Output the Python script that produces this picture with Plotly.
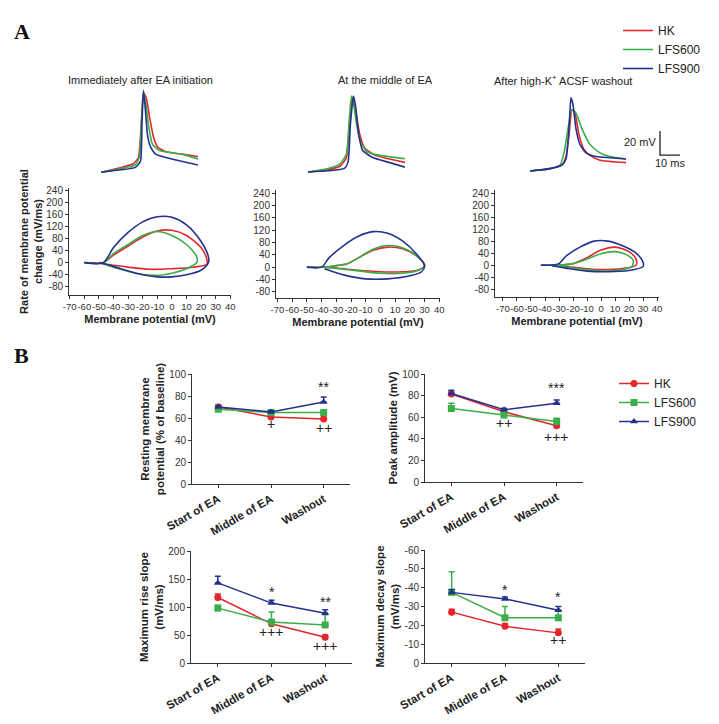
import plotly.graph_objects as go

W, H = 719, 724
OFF = 8                      # default page margin of the html body
FW, FH = W - OFF, H - OFF
RED, GREEN, BLUE = '#e3262b', '#3aae49', '#24318e'
FONT = 'Liberation Sans'
groups = ['HK', 'LFS600', 'LFS900']
colors = [RED, GREEN, BLUE]
symbols = ['circle', 'square', 'triangle-up']

# ---- panel A : action potential traces (time ms, voltage mV) ----
ap1_t = {
    'HK': [0, 10, 16, 18.5, 19.8, 21, 22.5, 24, 26, 28, 32, 40, 48],
    'LFS600': [0, 10, 17, 19, 20, 21, 22.3, 23.5, 25.5, 29, 40, 48],
    'LFS900': [0, 10, 17, 19.5, 20.3, 21, 22, 23, 24.5, 27, 35, 48],
}
ap1_v = {
    'HK': [-61, -57, -54, -49, -25, 5, 0, -15, -32, -40, -44, -46, -48],
    'LFS600': [-61, -58, -55, -48, -20, 5, -5, -22, -38, -43, -46, -50],
    'LFS900': [-61, -59, -57, -52, -20, 7, -10, -30, -40, -46, -50, -55],
}
ap2_t = {
    'HK': [0, 10, 16, 19, 20.5, 22, 23.5, 25.5, 28, 33, 48],
    'LFS600': [0, 10, 16, 19, 20.5, 21.5, 22.5, 24, 26, 29, 35, 48],
    'LFS900': [0, 10, 18, 19.8, 21, 22.5, 23.5, 25, 27, 32, 40, 48],
}
ap2_v = {
    'HK': [-60, -58, -55, -48, -20, 2, -8, -28, -40, -46, -52],
    'LFS600': [-60, -57, -53, -45, -15, 3, -3, -20, -35, -43, -46, -49],
    'LFS900': [-60, -59, -57, -52, -20, 3, -5, -28, -42, -48, -52, -56],
}
ap3_t = {
    'HK': [0, 10, 16, 18, 19.5, 21, 22.5, 24.5, 27, 30, 35, 48],
    'LFS600': [0, 10, 15, 17, 19, 21, 23, 26, 30, 35, 40, 48],
    'LFS900': [0, 10, 16, 18, 19.5, 20.5, 21.5, 23, 25, 28, 33, 40, 48],
}
ap3_v = {
    'HK': [-60, -58, -55, -48, -30, -9, -12, -30, -42, -47, -51, -53],
    'LFS600': [-60, -58, -55, -45, -25, -9, -12, -25, -38, -45, -48, -50],
    'LFS900': [-60, -58, -55, -50, -25, 1, -5, -25, -38, -45, -48, -49, -50],
}

# ---- panel A : phase plots (membrane potential mV, dV/dt mV/ms) ----
pp1_x = {
    'HK': [-60, -47, -40, -30, -20, -10, 0, 10, 20, 24, 24, 15, 0, -15, -30, -45, -55],
    'LFS600': [-60, -47, -40, -30, -20, -10, 0, 10, 17, 17, 10, 0, -10, -25, -40, -48],
    'LFS900': [-60, -47, -40, -30, -20, -10, 0, 10, 20, 25, 25, 20, 10, 0, -10, -20, -35, -45, -50],
}
pp1_y = {
    'HK': [0, 0, 25, 55, 85, 105, 107, 90, 50, 10, -5, -15, -20, -22, -15, -5, 0],
    'LFS600': [0, 0, 30, 60, 90, 103, 90, 60, 20, 0, -20, -35, -42, -35, -15, -3],
    'LFS900': [0, 0, 50, 100, 135, 152, 150, 125, 70, 20, 0, -25, -40, -47, -47, -40, -20, -5, 0],
}
pp2_x = {
    'HK': [-50, -38, -30, -23, -15, -5, 5, 15, 25, 30, 25, 15, 0, -15, -30, -38],
    'LFS600': [-50, -38, -30, -23, -15, -5, 5, 15, 25, 30, 25, 15, 0, -15, -30, -38],
    'LFS900': [-50, -40, -35, -25, -15, -5, 5, 15, 25, 30, 28, 20, 5, -10, -25, -38],
}
pp2_y = {
    'HK': [0, 0, 5, 10, 30, 55, 65, 60, 35, 5, -10, -15, -15, -10, -3, 0],
    'LFS600': [0, 0, 5, 10, 30, 58, 70, 63, 35, 5, -12, -20, -20, -12, -4, 0],
    'LFS900': [0, 0, 30, 70, 100, 115, 110, 85, 40, 5, -15, -28, -38, -38, -25, -5],
}
pp3_x = {
    'HK': [-42, -30, -20, -10, 0, 10, 20, 25, 25, 18, 5, -10, -25, -35],
    'LFS600': [-42, -30, -20, -10, 0, 10, 18, 23, 22, 15, 5, -10, -25, -35],
    'LFS900': [-43, -35, -30, -25, -15, -5, 5, 15, 25, 30, 30, 20, 5, -10, -25, -35],
}
pp3_y = {
    'HK': [0, 0, 5, 25, 50, 60, 45, 20, 0, -10, -15, -12, -5, 0],
    'LFS600': [0, 0, 5, 20, 38, 45, 35, 15, -5, -15, -20, -15, -6, 0],
    'LFS900': [0, 0, 5, 30, 60, 80, 80, 65, 40, 10, -5, -18, -22, -20, -10, -2],
}
pp_xticks = list(range(-70, 41, 10))
pp_yticks = list(range(-80, 241, 40))

# ---- panel B : summary data (mean, upward SEM) ----
categories = ['Start of EA', 'Middle of EA', 'Washout']
rest_mean = {'HK': [70, 61, 59], 'LFS600': [68, 65, 65], 'LFS900': [70, 65.5, 74.5]}
rest_err = {'HK': [2, 2, 2], 'LFS600': [1, 1, 1], 'LFS900': [1, 1, 4.5]}
peak_mean = {'HK': [81.5, 65, 52], 'LFS600': [68, 62, 56], 'LFS900': [82, 67, 73]}
peak_err = {'HK': [2, 3, 1], 'LFS600': [5, 1, 3], 'LFS900': [3, 1, 3]}
rise_mean = {'HK': [117, 70, 46], 'LFS600': [98, 73, 68], 'LFS900': [143, 107, 89]}
rise_err = {'HK': [6, 5, 4], 'LFS600': [5, 18, 18], 'LFS900': [12, 5, 6]}
decay_mean = {'HK': [-27, -19.5, -16], 'LFS600': [-37.5, -24, -24], 'LFS900': [-37.5, -34, -28]}
decay_err = {'HK': [1.5, 1.5, 2], 'LFS600': [11, 6, 4], 'LFS900': [1.5, 1, 2]}
decay_ticks = [-60, -50, -40, -30, -20, -10, 0]

rest_sig = [(2, 88, '**'), (1, 55, '+'), (2, 51, '++')]
peak_sig = [(2, 87, '***'), (1, 55, '++'), (2, 42, '+++')]
rise_sig = [(1, 127, '*'), (2, 109, '**'), (1, 55, '+++'), (2, 30, '+++')]
decay_sig = [(1, -39, '*'), (2, -35, '*'), (2, -12, '++')]


def xd(a, b):
    return [(a - OFF) / FW, (b - OFF) / FW]


def yd(top, bottom):
    return [1 - (bottom - OFF) / FH, 1 - (top - OFF) / FH]


def px(x):
    return (x - OFF) / FW


def py(y):
    return 1 - (y - OFF) / FH


def hyph(vals):
    return [str(v) for v in vals]


fig = go.Figure()

# AP traces
for k, (ts, vs) in enumerate([(ap1_t, ap1_v), (ap2_t, ap2_v), (ap3_t, ap3_v)]):
    for g, c in zip(groups, colors):
        fig.add_trace(go.Scatter(x=ts[g], y=vs[g], mode='lines', line=dict(color=c, width=1.6, shape='spline', smoothing=0.5),
                                 xaxis='x%d' % (k + 1), yaxis='y%d' % (k + 1), name=g, showlegend=(k == 0),
                                 legend='legend', hoverinfo='skip'))

# scale bar (20 mV, 10 ms)
fig.add_trace(go.Scatter(x=[65, 65, 75], y=[-26.8, -46.8, -46.8], mode='lines', line=dict(color='#222', width=1.3),
                         xaxis='x3', yaxis='y3', showlegend=False, hoverinfo='skip'))

# phase plots
for k, (xs, ys) in enumerate([(pp1_x, pp1_y), (pp2_x, pp2_y), (pp3_x, pp3_y)]):
    for g, c in zip(groups, colors):
        fig.add_trace(go.Scatter(x=xs[g], y=ys[g], mode='lines', line=dict(color=c, width=1.6, shape='spline', smoothing=0.8),
                                 xaxis='x%d' % (k + 4), yaxis='y%d' % (k + 4), showlegend=False, hoverinfo='skip'))

# panel B
for k, (means, errs) in enumerate([(rest_mean, rest_err), (peak_mean, peak_err), (rise_mean, rise_err), (decay_mean, decay_err)]):
    rev = (k == 3)
    for g, c, s in zip(groups, colors, symbols):
        e = dict(type='data', symmetric=False, color=c, thickness=1.5, width=3)
        if rev:
            e['array'] = [0, 0, 0]
            e['arrayminus'] = errs[g]
        else:
            e['array'] = errs[g]
            e['arrayminus'] = [0, 0, 0]
        fig.add_trace(go.Scatter(x=[0, 1, 2], y=means[g], mode='lines+markers', line=dict(color=c, width=1.5),
                                 marker=dict(symbol=s, size=7, color=c), error_y=e,
                                 xaxis='x%d' % (k + 7), yaxis='y%d' % (k + 7), name=g,
                                 showlegend=(k == 1), legend='legend2', hoverinfo='skip'))

layout = dict(width=FW, height=FH, paper_bgcolor='white', plot_bgcolor='white',
              margin=dict(l=0, r=0, t=0, b=0, autoexpand=False), font=dict(family=FONT, size=11, color='#222'))

hidden = dict(visible=False, showgrid=False, zeroline=False)
# AP trace axes
layout['xaxis'] = dict(hidden, domain=xd(101, 198), range=[0, 48], anchor='y')
layout['yaxis'] = dict(hidden, domain=yd(86, 175), range=[-63.3, 10.5], anchor='x')
layout['xaxis2'] = dict(hidden, domain=xd(308, 405), range=[0, 48], anchor='y2')
layout['yaxis2'] = dict(hidden, domain=yd(87, 176), range=[-63.3, 10.5], anchor='x2')
layout['xaxis3'] = dict(hidden, domain=xd(530, 690), range=[0, 80], anchor='y3')
layout['yaxis3'] = dict(hidden, domain=yd(86, 175), range=[-63.3, 10.5], anchor='x3')

tickf = dict(family=FONT, size=10, color='#333')
titlef = dict(family=FONT, size=11, color='#222')
ax_common = dict(showline=True, linecolor='#333', linewidth=1, ticks='outside', ticklen=3, tickcolor='#333',
                 showgrid=False, zeroline=False, tickfont=tickf, automargin=False)
pp_geo = [((69, 231), (188, 295), [-70.5, 40.5], [-107, 247]),
          ((276, 440), (190, 298), [-71, 40.5], [-100, 250]),
          ((495, 659), (190, 297), [-75.7, 41.4], [-106, 250])]
for k, (xpx, ypx, xr, yr) in enumerate(pp_geo):
    n = k + 4
    layout['xaxis%d' % n] = dict(ax_common, domain=xd(*xpx), range=xr, tickvals=pp_xticks, ticktext=hyph(pp_xticks),
                                 anchor='y%d' % n, tickangle=0, tickfont=dict(family=FONT, size=9.5, color='#333'),
                                 title=dict(text='<b>Membrane potential (mV)</b>', font=titlef, standoff=3))
    ytitle = dict(text='<b>Rate of membrane potential<br>change (mV/ms)</b>', font=titlef, standoff=1) if k == 0 else None
    layout['yaxis%d' % n] = dict(ax_common, domain=yd(*ypx), range=yr, tickvals=pp_yticks, ticktext=hyph(pp_yticks),
                                 anchor='x%d' % n, title=ytitle)

b_geo = [((192, 350), (374, 484), [0, 100], 20, '<b>Resting membrane<br>potential (% of baseline)</b>'),
         ((425, 583), (374, 482), [0, 100], 20, '<b>Peak amplitude (mV)</b>'),
         ((191, 352), (551, 663), [0, 200], 50, '<b>Maximum rise slope<br>(mV/ms)</b>'),
         ((425, 585), (550, 663), [0, -60], 10, '<b>Maximum decay slope<br>(mV/ms)</b>')]
for k, (xpx, ypx, yr, dt, yt) in enumerate(b_geo):
    n = k + 7
    layout['xaxis%d' % n] = dict(ax_common, domain=xd(*xpx), range=[-0.5, 2.5], tickvals=[0, 1, 2],
                                 ticktext=['<b>%s</b>' % c for c in categories], tickangle=-30,
                                 tickfont=dict(family=FONT, size=11.5, color='#222'), anchor='y%d' % n)
    layout['yaxis%d' % n] = dict(ax_common, domain=yd(*ypx), range=yr, dtick=dt, anchor='x%d' % n,
                                 title=dict(text=yt, font=dict(family=FONT, size=11.5, color='#222'), standoff=2))
layout['yaxis10']['tickvals'] = decay_ticks
layout['yaxis10']['ticktext'] = hyph(decay_ticks)

layout['legend'] = dict(x=px(618), y=py(16), xanchor='left', yanchor='top', font=dict(family=FONT, size=12, color='#222'),
                        bgcolor='rgba(0,0,0,0)', itemwidth=30, tracegroupgap=0)
layout['legend2'] = dict(x=px(614), y=py(369), xanchor='left', yanchor='top', font=dict(family=FONT, size=12, color='#222'),
                         bgcolor='rgba(0,0,0,0)', itemwidth=30, tracegroupgap=6)

ann = []
for lab, yy in [('A', 32), ('B', 355)]:
    ann.append(dict(text='<b>%s</b>' % lab, x=px(12), y=py(yy), xref='paper', yref='paper', showarrow=False,
                    font=dict(family='Liberation Serif', size=22, color='#111'), xanchor='left', yanchor='middle'))
for txt, cx in [('Immediately after EA initiation', 140), ('At the middle of EA', 385),
                ('After high-K<sup>+</sup> ACSF washout', 563)]:
    ann.append(dict(text=txt, x=px(cx), y=py(80), xref='paper', yref='paper', showarrow=False,
                    xanchor='center', yanchor='middle', font=dict(family=FONT, size=11, color='#222')))
ann.append(dict(text='20 mV', x=64, y=-36, xref='x3', yref='y3', xanchor='right', showarrow=False,
                font=dict(family=FONT, size=11, color='#222')))
ann.append(dict(text='10 ms', x=70, y=-53, xref='x3', yref='y3', showarrow=False,
                font=dict(family=FONT, size=11, color='#222')))
for k, sigs in enumerate([rest_sig, peak_sig, rise_sig, decay_sig]):
    n = k + 7
    for cx, cy, txt in sigs:
        ann.append(dict(text=txt, x=cx, y=cy, xref='x%d' % n, yref='y%d' % n, showarrow=False,
                        font=dict(family=FONT, size=14, color='#222')))
layout['annotations'] = ann

fig.update_layout(layout)
fig.write_html('out.html')
